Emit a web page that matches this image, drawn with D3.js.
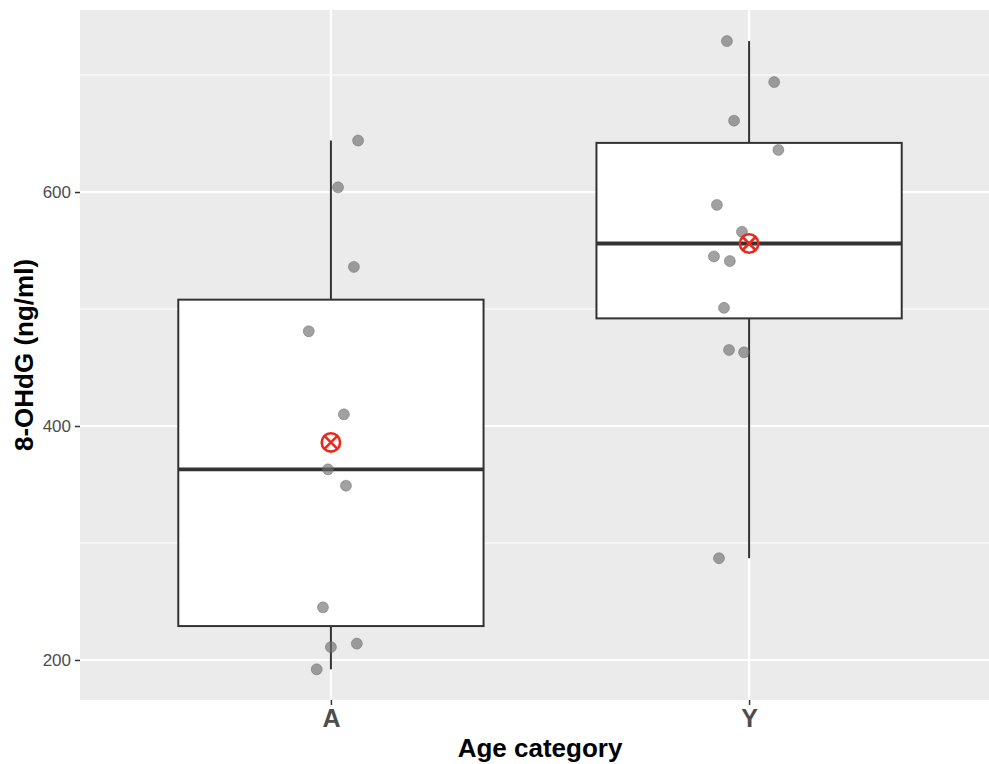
<!DOCTYPE html>
<html>
<head>
<meta charset="utf-8">
<script src="https://cdn.jsdelivr.net/npm/d3@7"></script>
<style>
  html, body { margin: 0; padding: 0; background: #ffffff; }
  svg { display: block; font-family: "Liberation Sans", Arial, sans-serif; }
</style>
</head>
<body>
<svg id="chart" width="989" height="764"></svg>
<script>
// ---- data ----
const categories = ["A", "Y"];
const q1Values = [229, 492];
const medianValues = [363, 556];
const q3Values = [508, 642];
const whiskerLow = [192, 287];
const whiskerHigh = [644, 729];
const meanValues = [386, 556];
const pointsA = [644, 604, 536, 481, 410, 363, 349, 245, 211, 214, 192];
const jitterA = [0.065, 0.017, 0.055, -0.053, 0.031, -0.007, 0.036, -0.019, 0.0, 0.062, -0.034];
const pointsY = [729, 694, 661, 636, 589, 566, 545, 541, 501, 465, 463, 287];
const jitterY = [-0.053, 0.06, -0.036, 0.07, -0.077, -0.017, -0.084, -0.046, -0.06, -0.048, -0.012, -0.072];
const yTicks = [200, 400, 600];
const yMinor = [300, 500, 700];
const xTitle = "Age category";
const yTitle = "8-OHdG (ng/ml)";

// ---- layout ----
const svg = d3.select("#chart");
const panel = { left: 80, top: 10, right: 1000, bottom: 700 };

const x = d3.scaleLinear().domain([0.4, 2.6]).range([panel.left, panel.right]);
const y = d3.scaleLinear().domain([165.8, 755.6]).range([panel.bottom, panel.top]);
const unit = x(2) - x(1);
const boxW = unit * 0.73;

svg.append("defs").append("clipPath").attr("id", "clip")
  .append("rect").attr("x", panel.left).attr("y", panel.top)
  .attr("width", panel.right - panel.left).attr("height", panel.bottom - panel.top);

const g = svg.append("g").attr("clip-path", "url(#clip)");

g.append("rect")
  .attr("x", panel.left).attr("y", panel.top)
  .attr("width", panel.right - panel.left).attr("height", panel.bottom - panel.top)
  .attr("fill", "#ebebeb");

// minor grid
g.selectAll(".minor").data(yMinor).join("line")
  .attr("x1", panel.left).attr("x2", panel.right)
  .attr("y1", d => y(d)).attr("y2", d => y(d))
  .attr("stroke", "#ffffff").attr("stroke-width", 1.1);
// major grid
g.selectAll(".major").data(yTicks).join("line")
  .attr("x1", panel.left).attr("x2", panel.right)
  .attr("y1", d => y(d)).attr("y2", d => y(d))
  .attr("stroke", "#ffffff").attr("stroke-width", 2.2);
g.selectAll(".vmajor").data(categories).join("line")
  .attr("x1", (d, i) => x(i + 1)).attr("x2", (d, i) => x(i + 1))
  .attr("y1", panel.top).attr("y2", panel.bottom)
  .attr("stroke", "#ffffff").attr("stroke-width", 2.2);

// boxplots
categories.forEach((c, i) => {
  const cx = x(i + 1);
  const col = "#333333";
  g.append("line").attr("x1", cx).attr("x2", cx)
    .attr("y1", y(q3Values[i])).attr("y2", y(whiskerHigh[i]))
    .attr("stroke", col).attr("stroke-width", 2);
  g.append("line").attr("x1", cx).attr("x2", cx)
    .attr("y1", y(q1Values[i])).attr("y2", y(whiskerLow[i]))
    .attr("stroke", col).attr("stroke-width", 2);
  g.append("rect")
    .attr("x", cx - boxW / 2).attr("y", y(q3Values[i]))
    .attr("width", boxW).attr("height", y(q1Values[i]) - y(q3Values[i]))
    .attr("fill", "#ffffff").attr("stroke", col).attr("stroke-width", 2);
  g.append("line")
    .attr("x1", cx - boxW / 2).attr("x2", cx + boxW / 2)
    .attr("y1", y(medianValues[i])).attr("y2", y(medianValues[i]))
    .attr("stroke", col).attr("stroke-width", 3.8);
});

// jittered points
const pts = [];
pointsA.forEach((v, k) => pts.push({ pos: 1 + jitterA[k], v }));
pointsY.forEach((v, k) => pts.push({ pos: 2 + jitterY[k], v }));
g.selectAll(".pt").data(pts).join("circle")
  .attr("cx", d => x(d.pos)).attr("cy", d => y(d.v)).attr("r", 5.5)
  .attr("fill", "#6f6f6f").attr("fill-opacity", 0.65)
  .attr("stroke", "#5a5a5a").attr("stroke-opacity", 0.5).attr("stroke-width", 0.8);

// mean markers (shape 13: circle with X)
categories.forEach((c, i) => {
  const cx = x(i + 1), cy = y(meanValues[i]);
  const r = 9.2, d = r * Math.SQRT1_2;
  const mg = g.append("g");
  mg.append("circle").attr("cx", cx).attr("cy", cy).attr("r", r)
    .attr("fill", "none").attr("stroke", "#e8291c").attr("stroke-width", 2.6);
  mg.append("line").attr("x1", cx - d).attr("y1", cy - d).attr("x2", cx + d).attr("y2", cy + d)
    .attr("stroke", "#e8291c").attr("stroke-width", 2.6);
  mg.append("line").attr("x1", cx - d).attr("y1", cy + d).attr("x2", cx + d).attr("y2", cy - d)
    .attr("stroke", "#e8291c").attr("stroke-width", 2.6);
});

// y axis
const yAxis = d3.axisLeft(y).tickValues(yTicks).tickSize(5).tickPadding(4);
const ya = svg.append("g").attr("transform", `translate(${panel.left},0)`).call(yAxis);
ya.select(".domain").remove();
ya.selectAll(".tick line").attr("stroke", "#333333").attr("stroke-width", 1.5);
ya.selectAll(".tick text").attr("fill", "#4d4d4d").attr("font-size", 17)
  .attr("font-family", "Liberation Sans, Arial, sans-serif");

// x axis
const xAxis = d3.axisBottom(x).tickValues([1, 2]).tickFormat((d) => categories[d - 1]).tickSize(5).tickPadding(4);
const xa = svg.append("g").attr("transform", `translate(0,${panel.bottom})`).call(xAxis);
xa.select(".domain").remove();
xa.selectAll(".tick line").attr("stroke", "#333333").attr("stroke-width", 1.5);
xa.selectAll(".tick text").attr("fill", "#4d4d4d").attr("font-size", 25).attr("font-weight", "bold")
  .attr("font-family", "Liberation Sans, Arial, sans-serif");

// titles
svg.append("text")
  .attr("x", (panel.left + panel.right) / 2).attr("y", 757)
  .attr("text-anchor", "middle").attr("font-size", 26).attr("font-weight", "bold")
  .attr("fill", "#000000").text(xTitle);
svg.append("text")
  .attr("transform", `translate(33,${(panel.top + panel.bottom) / 2}) rotate(-90)`)
  .attr("text-anchor", "middle").attr("font-size", 26).attr("font-weight", "bold")
  .attr("fill", "#000000").text(yTitle);
</script>
</body>
</html>
